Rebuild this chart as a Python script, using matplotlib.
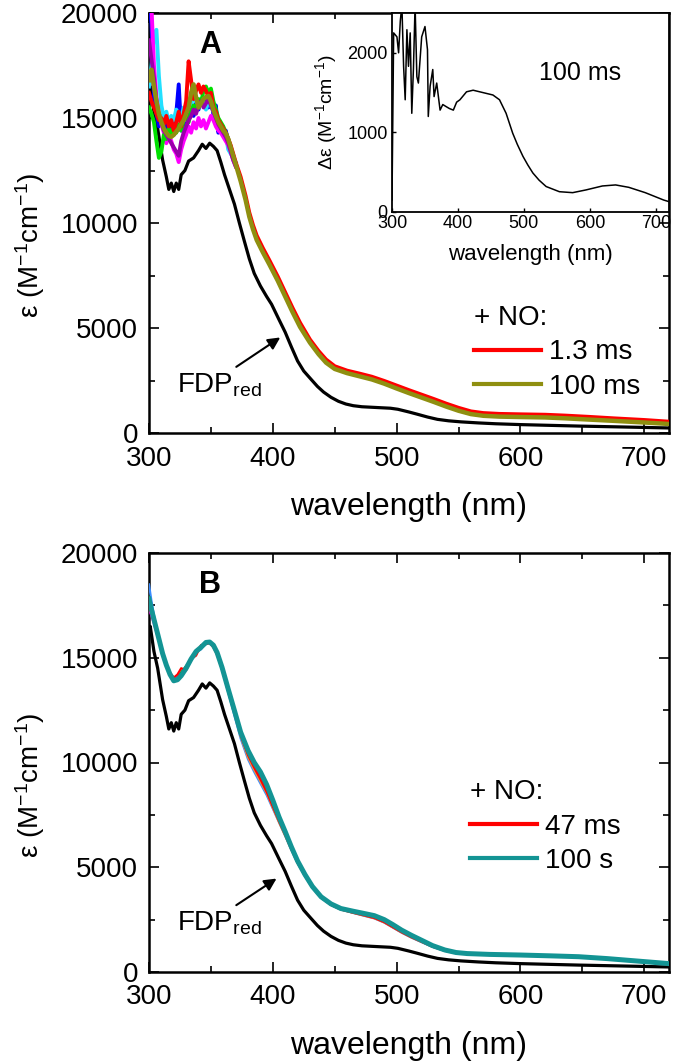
import matplotlib
matplotlib.use('Agg')
import matplotlib.pyplot as plt
from matplotlib.ticker import MultipleLocator
from matplotlib.lines import Line2D

plt.rcParams['font.family'] = ['Liberation Sans', 'DejaVu Sans']
plt.rcParams['mathtext.fontset'] = 'custom'
plt.rcParams['mathtext.rm'] = 'Liberation Sans'
plt.rcParams['mathtext.default'] = 'regular'

# ---------------- data ----------------

# FDPred spectrum (black, same in both panels)
wl_black = [300, 301, 304, 307, 311, 314, 316, 318, 320, 322, 324, 326, 329, 332, 336, 340,
            343, 346, 349, 352, 355, 358, 361, 365, 369, 373, 377, 381, 385, 390, 395, 399,
            405, 410, 415, 420, 425, 431, 436, 441, 447, 453, 459, 465, 472, 485, 495, 501,
            510, 517, 525, 533, 542, 552, 566, 580, 600, 620, 647, 680, 720]
eps_black = [16200, 16500, 15300, 14500, 13000, 12200, 11600, 11900, 11500, 11900, 11600, 12300,
             12500, 12950, 13100, 13450, 13750, 13550, 13800, 13650, 13450, 12900, 12300, 11600,
             10900, 10000, 9140, 8300, 7600, 7000, 6500, 6130, 5400, 4800, 4100, 3430, 2950,
             2550, 2220, 1950, 1700, 1510, 1380, 1300, 1250, 1210, 1180, 1130, 1000, 890, 760,
             650, 580, 530, 480, 440, 400, 370, 330, 290, 240]

# panel A : noisy start (300-370 nm)
wl_head = [300, 302, 304, 306, 308, 310, 312, 314, 316, 318, 320, 322, 324, 326, 328, 330,
           332, 334, 336, 338, 340, 342, 344, 346, 348, 350, 352, 354, 356, 358, 360, 362,
           364, 366, 368, 370]
a_blue = [20500, 19500, 16000, 15200, 14600, 15100, 14500, 14800, 14300, 14700, 14200, 15200,
          16600, 14400, 14800, 14500, 15000, 15400, 15100, 15700, 15400, 15900, 15600, 15800,
          15500, 16000, 15200, 15600, 14300, 14600, 14200, 14400, 13900, 13500, 13100, 12800]
a_green = [15500, 15200, 14800, 13900, 13100, 13400, 14200, 14000, 14500, 14200, 14600, 14300,
           14700, 14400, 14900, 15200, 14800, 15300, 15600, 15400, 15900, 15700, 16300, 16500,
           16200, 16400, 15800, 15400, 15000, 14800, 14600, 14300, 14000, 13600, 13200, 12800]
a_magenta = [20500, 20300, 17500, 16000, 15200, 14700, 14300, 13800, 14200, 13900, 13500, 13300,
             12900, 13500, 13900, 14200, 14600, 14300, 14800, 14500, 15000, 14600, 14900, 14500,
             14800, 15100, 14900, 14600, 14400, 14300, 14100, 13900, 13700, 13400, 13000, 12700]
a_cyan = [16500, 17500, 19000, 19200, 17000, 15600, 15000, 15300, 14800, 15100, 14900, 15400,
          15200, 15000, 15500, 15300, 15800, 15600, 16100, 15800, 15500, 15900, 15700, 15400,
          15800, 15600, 15300, 15000, 14900, 14700, 14500, 14200, 13500, 13300, 13100, 12900]
a_purple = [18700, 17800, 16900, 15800, 15100, 14800, 14400, 14200, 14000, 13800, 13600, 13400,
            13200, 13900, 14300, 14600, 14900, 15100, 15400, 15200, 15600, 15800, 15500, 15700,
            15900, 15600, 15300, 15000, 14700, 14500, 14300, 14100, 13800, 13400, 13000, 12700]

# panel A : full traces of the two legend entries
wl_a = wl_head + [374, 378, 381, 384, 387, 392, 397, 404, 410, 416, 422, 430, 437, 443, 450,
                  460, 470, 480, 490, 500, 510, 520, 530, 540, 550, 560, 570, 583, 600, 620,
                  636, 655, 675, 700, 720]
a_red = [16200, 15800, 15500, 15200, 14900, 15000, 14700, 15100, 14600, 14900, 14400, 14800,
         15300, 14600, 15200, 15800, 17700, 16800, 15900, 16300, 16600, 16200, 16500, 16300,
         16000, 16200, 15500, 15300, 14900, 14700, 14500, 14300, 14000, 13700, 13300, 12900,
         12200, 11300, 10500, 9900, 9400, 8800, 8250, 7450, 6700, 5950, 5250, 4450, 3900,
         3500, 3180, 2970, 2830, 2680, 2480, 2260, 2040, 1830, 1620, 1400, 1200, 1030, 950,
         910, 890, 870, 830, 770, 700, 620, 540]
a_olive = [16800, 17300, 16500, 15800, 15200, 14800, 14500, 14300, 14150, 14100, 14200, 14350,
           14500, 14700, 14900, 15200, 15500, 16200, 16600, 16000, 15500, 15700, 15900, 16000,
           16050, 15800, 15400, 15100, 14800, 14600, 14400, 14270, 14000, 13600, 13200, 12800,
           12000, 11100, 10300, 9700, 9190, 8600, 8050, 7250, 6500, 5750, 5050, 4300, 3750,
           3350, 3050, 2850, 2700, 2550, 2350, 2120, 1900, 1690, 1480, 1260, 1060, 900, 820,
           780, 760, 740, 700, 640, 580, 500, 430]

# inset : difference spectrum at 100 ms
wl_diff = [300, 302.5, 307.5, 310, 312.6, 315, 317.6, 320, 322.6, 325, 327.6, 330, 332.5, 335,
           337.7, 340, 345, 350, 353.8, 355, 357.8, 361.8, 363.8, 367.8, 372.9, 377, 382.9,
           387, 393, 398, 403, 413, 423, 433, 443, 453, 463, 473, 483, 490, 498.5, 506,
           513.6, 523, 533.7, 553.8, 573.9, 594, 619, 639, 659, 684, 712, 720]
d_eps = [150, 2250, 2200, 2000, 2400, 2600, 1830, 1410, 2290, 1830, 2250, 1240, 1800, 2600,
         1700, 1620, 2200, 2330, 2040, 1200, 1580, 1790, 1450, 1620, 1280, 1350, 1320, 1300,
         1280, 1380, 1410, 1510, 1530, 1510, 1490, 1470, 1410, 1240, 990, 850, 700, 590, 490,
         400, 320, 255, 243, 277, 327, 340, 310, 243, 150, 130]

# panel B
wl_b = [300, 302, 305, 308, 311, 314, 317, 320, 323, 326, 330, 334, 338, 342, 346, 349, 352,
        355, 359, 364, 369, 374, 380, 385, 390, 395, 400, 405, 410, 415, 420, 426, 432, 439,
        447, 455, 465, 474, 482, 490, 497, 504, 512, 520, 529, 539, 548, 557, 575, 600, 625,
        647, 670, 695, 720]
b_teal = [17800, 17300, 16600, 15900, 15200, 14650, 14200, 13900, 13950, 14140, 14500, 14940,
          15300, 15500, 15730, 15750, 15600, 15250, 14540, 13500, 12480, 11450, 10570, 10000,
          9550, 8950, 8200, 7400, 6700, 5970, 5300, 4650, 4080, 3590, 3250, 3030, 2900, 2790,
          2690, 2500, 2260, 2000, 1750, 1520, 1260, 1050, 930, 880, 840, 810, 770, 730, 640,
          520, 400]
b_red = [17400, 17100, 16500, 15800, 15100, 14600, 14300, 14050, 14200, 14500, 14400, 14950,
         15100, 15600, 15650, 15700, 15500, 15150, 14450, 13400, 12350, 11300, 10350, 9750,
         9200, 8600, 7900, 7200, 6550, 5870, 5230, 4600, 4040, 3560, 3210, 2990, 2830, 2700,
         2580, 2380, 2140, 1900, 1660, 1450, 1210, 1020, 910, 865, 830, 800, 760, 720, 630,
         510, 390]
b_blue = [18500, 17700, 16700, 15800, 15100, 14600, 14250, 14000, 14100, 14300, 14600, 14900,
          15300, 15400, 15750, 15700, 15550, 15200, 14450, 13350, 12250, 11150, 10150, 9550,
          9000, 8450, 7800, 7150, 6500, 5830, 5200, 4580, 4020, 3540, 3200, 2980, 2820, 2680,
          2560, 2360, 2120, 1880, 1640, 1430, 1200, 1010, 900, 860, 825, 795, 755, 715, 625,
          505, 385]
b_green = [17900, 17400, 16700, 15950, 15250, 14700, 14200, 13950, 14000, 14300, 14600, 14900,
           15250, 15550, 15700, 15720, 15580, 15230, 14500, 13450, 12400, 11350, 10450, 9850,
           9350, 8750, 8050, 7300, 6620, 5920, 5260, 4620, 4060, 3580, 3230, 3010, 2860, 2740,
           2630, 2430, 2200, 1950, 1700, 1480, 1230, 1030, 920, 870, 835, 805, 765, 725, 635,
           515, 395]
b_magenta = [17300, 17000, 16400, 15800, 15150, 14600, 14200, 13900, 13950, 14150, 14500, 14900,
             15250, 15450, 15700, 15700, 15550, 15200, 14450, 13400, 12350, 11300, 10300, 9700,
             9150, 8600, 7900, 7200, 6550, 5870, 5230, 4600, 4040, 3560, 3210, 2990, 2840, 2710,
             2590, 2390, 2150, 1910, 1670, 1460, 1220, 1020, 910, 865, 830, 800, 760, 720, 630,
             510, 390]
b_purple = [17600, 17200, 16550, 15850, 15200, 14650, 14200, 13900, 13950, 14150, 14500, 14900,
            15250, 15500, 15720, 15720, 15570, 15220, 14480, 13430, 12380, 11350, 10450, 9850,
            9350, 8780, 8080, 7320, 6630, 5930, 5270, 4630, 4070, 3590, 3240, 3020, 2870, 2750,
            2640, 2440, 2210, 1960, 1710, 1490, 1240, 1040, 920, 870, 835, 805, 765, 725, 635,
            515, 395]
b_orange = [17700, 17250, 16600, 15850, 15200, 14650, 14200, 13900, 13950, 14150, 14500, 14900,
            15250, 15480, 15710, 15720, 15560, 15210, 14470, 13420, 12350, 11250, 10250, 9650,
            9100, 8550, 7850, 7150, 6500, 5840, 5210, 4590, 4030, 3550, 3200, 2980, 2820, 2690,
            2570, 2370, 2130, 1890, 1650, 1440, 1210, 1015, 905, 862, 828, 798, 758, 718, 628,
            508, 388]

ylab = 'ε (M$^{-1}$cm$^{-1}$)'
xlab = 'wavelength (nm)'

# ---------------- figure ----------------

fig = plt.figure(figsize=(6.73, 10.63), dpi=100)
W, H = 673.0, 1063.0
axA = fig.add_axes([149 / W, 1 - 433 / H, 520 / W, 420 / H])
axB = fig.add_axes([149 / W, 1 - 972 / H, 520 / W, 419 / H])

arrow_kw = dict(arrowstyle='-|>', color='black', lw=1.5, mutation_scale=18,
                shrinkA=0, shrinkB=0)


def style(ax):
    ax.set_xlim(300, 720)
    ax.set_ylim(0, 20000)
    ax.xaxis.set_major_locator(MultipleLocator(100))
    ax.xaxis.set_minor_locator(MultipleLocator(50))
    ax.yaxis.set_major_locator(MultipleLocator(5000))
    ax.yaxis.set_minor_locator(MultipleLocator(2500))
    ax.tick_params(which='both', direction='in', top=True, right=True, width=1.2, labelsize=20)
    ax.tick_params(which='major', length=7)
    ax.tick_params(which='minor', length=4)
    ax.tick_params(axis='x', pad=9)
    ax.tick_params(axis='y', pad=8)
    for s in ax.spines.values():
        s.set_linewidth(1.8)


# panel A
axA.plot(wl_black, eps_black, color='black', lw=2.3, zorder=3)
axA.plot(wl_head, a_blue, color='#0000ff', lw=2.8, zorder=4)
axA.plot(wl_head, a_cyan, color='#22e0ff', lw=2.8, zorder=4)
axA.plot(wl_head, a_magenta, color='#ff00ff', lw=2.8, zorder=4)
axA.plot(wl_head, a_green, color='#00e000', lw=2.8, zorder=4)
axA.plot(wl_head, a_purple, color='#9900aa', lw=2.8, zorder=4)
axA.plot(wl_a, a_red, color='#ff0000', lw=2.8, zorder=5)
axA.plot(wl_a, a_olive, color='#8f8f10', lw=3.2, zorder=6)
style(axA)
axA.text(0.117, 0.924, 'A', transform=axA.transAxes, fontsize=22, fontweight='bold',
         ha='center', va='center')
axA.text(322.5, 1950, 'FDP$_{red}$', fontsize=20, ha='left', va='baseline')
axA.annotate('', xy=(406, 4550), xytext=(370.5, 3150), arrowprops=arrow_kw)
hA = [Line2D([], [], color='#ff0000', lw=3), Line2D([], [], color='#8f8f10', lw=3)]
axA.legend(hA, ['1.3 ms', '100 ms'], title='+ NO:', title_fontsize=20, fontsize=20,
           frameon=False, loc='upper left', bbox_to_anchor=(0.625, 0.305),
           borderpad=0, borderaxespad=0, handlelength=2.4, handletextpad=0.3,
           labelspacing=0.3, alignment='left')

# inset
axI = fig.add_axes([392 / W, 1 - 212 / H, 277 / W, 199 / H])
axI.plot(wl_diff, d_eps, color='black', lw=1.1)
axI.set_xlim(300, 720)
axI.set_ylim(0, 2500)
axI.xaxis.set_major_locator(MultipleLocator(100))
axI.yaxis.set_major_locator(MultipleLocator(1000))
axI.tick_params(direction='in', length=3, width=1, labelsize=13)
axI.tick_params(axis='x', pad=2)
axI.tick_params(axis='y', pad=3)
for s in axI.spines.values():
    s.set_linewidth(1.3)
axI.set_xlabel(xlab, fontsize=16, labelpad=9)
axI.set_ylabel('Δε (M$^{-1}$cm$^{-1}$)', fontsize=14, labelpad=6)
axI.text(0.68, 0.70, '100 ms', transform=axI.transAxes, fontsize=18, ha='center', va='center')

# panel B
axB.plot(wl_black, eps_black, color='black', lw=2.3, zorder=3)
axB.plot(wl_b, b_blue, color='#3a8cff', lw=1.6, zorder=4)
axB.plot(wl_b, b_magenta, color='#ff00ff', lw=1.6, zorder=4)
axB.plot(wl_b, b_orange, color='#e8a040', lw=1.6, zorder=4)
axB.plot(wl_b, b_green, color='#00b000', lw=1.6, zorder=4)
axB.plot(wl_b, b_purple, color='#800080', lw=1.6, zorder=4)
axB.plot(wl_b, b_red, color='#ff0000', lw=1.6, zorder=4)
axB.plot(wl_b, b_teal, color='#139494', lw=3.6, zorder=6)
style(axB)
axB.text(0.117, 0.924, 'B', transform=axB.transAxes, fontsize=22, fontweight='bold',
         ha='center', va='center')
axB.text(322.5, 2000, 'FDP$_{red}$', fontsize=20, ha='left', va='baseline')
axB.annotate('', xy=(403, 4460), xytext=(370.5, 3190), arrowprops=arrow_kw)
hB = [Line2D([], [], color='#ff0000', lw=3), Line2D([], [], color='#139494', lw=3)]
axB.legend(hB, ['47 ms', '100 s'], title='+ NO:', title_fontsize=20, fontsize=20,
           frameon=False, loc='upper left', bbox_to_anchor=(0.617, 0.46),
           borderpad=0, borderaxespad=0, handlelength=2.4, handletextpad=0.3,
           labelspacing=0.3, alignment='left')

# axis labels
fig.text(30 / W, 1 - 245 / H, ylab, rotation=90, fontsize=20, ha='center', va='center')
fig.text(30 / W, 1 - 785 / H, ylab, rotation=90, fontsize=20, ha='center', va='center')
fig.text(409 / W, 1 - 507 / H, xlab, fontsize=23, ha='center', va='center')
fig.text(409 / W, 1 - 1046 / H, xlab, fontsize=23, ha='center', va='center')

fig.savefig('out.png', dpi=100)
